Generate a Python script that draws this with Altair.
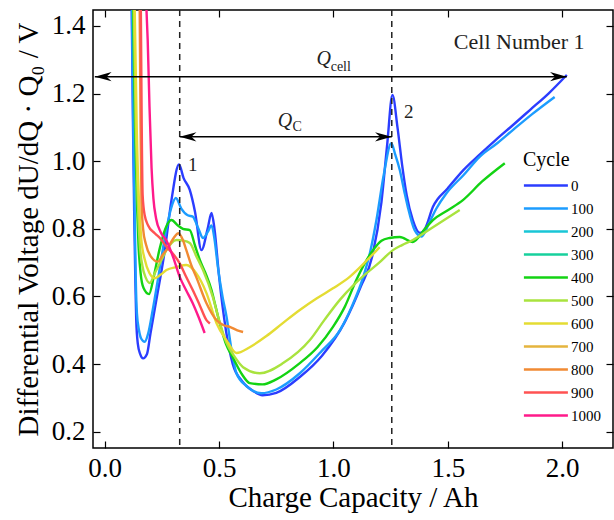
import altair as alt
import pandas as pd

# ---------------- data ----------------
cycles_all = ["0", "100", "200", "300", "400", "500", "600", "700", "800", "900", "1000"]
colors_all = ["#2b3dff", "#1c9cff", "#19c6d6", "#17d09c", "#13d313", "#a9e33e",
              "#e4dc33", "#e5b43e", "#f18a33", "#ff5252", "#ff1a8a"]

x_c0 = [0.118, 0.124, 0.129, 0.134, 0.138, 0.145, 0.155, 0.168, 0.185, 0.20, 0.226, 0.263, 0.292, 0.325,
        0.345, 0.372, 0.395, 0.423, 0.45, 0.467, 0.48, 0.50, 0.53, 0.56, 0.60, 0.65, 0.69, 0.75, 0.853,
        0.95, 1.05, 1.12, 1.17, 1.21, 1.235, 1.258, 1.28, 1.30, 1.32, 1.347, 1.378, 1.40, 1.435, 1.50,
        1.57, 1.64, 1.71, 1.79, 1.86, 1.94, 2.02]
y_c0 = [1.46, 1.10, 0.85, 0.65, 0.53, 0.46, 0.43, 0.417, 0.43, 0.49, 0.59, 0.737, 0.885, 0.99,
        0.95, 0.915, 0.85, 0.737, 0.80, 0.847, 0.80, 0.66, 0.50, 0.40, 0.35, 0.32, 0.308, 0.315, 0.362,
        0.425, 0.525, 0.63, 0.72, 0.88, 1.05, 1.196, 1.10, 0.99, 0.90, 0.826, 0.788, 0.80, 0.865, 0.92,
        0.975, 1.02, 1.063, 1.11, 1.152, 1.20, 1.255]

x_c100 = [0.119, 0.125, 0.131, 0.136, 0.141, 0.15, 0.16, 0.175, 0.19, 0.21, 0.24, 0.27, 0.29, 0.311,
          0.335, 0.363, 0.385, 0.41, 0.43, 0.45, 0.467, 0.48, 0.495, 0.515, 0.533, 0.555, 0.576, 0.62,
          0.685, 0.75, 0.853, 0.95, 1.028, 1.08, 1.13, 1.16, 1.188, 1.22, 1.253, 1.27, 1.29, 1.31,
          1.325, 1.355, 1.385, 1.42, 1.45, 1.494, 1.57, 1.639, 1.71, 1.784, 1.87, 1.967]
y_c100 = [1.46, 1.10, 0.85, 0.65, 0.55, 0.50, 0.475, 0.466, 0.49, 0.56, 0.68, 0.80, 0.86, 0.891,
          0.86, 0.84, 0.836, 0.80, 0.773, 0.79, 0.81, 0.77, 0.687, 0.60, 0.539, 0.44, 0.373, 0.335,
          0.314, 0.325, 0.373, 0.44, 0.50, 0.57, 0.657, 0.73, 0.826, 0.96, 1.053, 1.02, 0.974, 0.91,
          0.865, 0.796, 0.777, 0.82, 0.86, 0.905, 0.96, 1.013, 1.05, 1.092, 1.14, 1.19]

x_c400 = [0.124, 0.133, 0.141, 0.148, 0.157, 0.17, 0.194, 0.215, 0.24, 0.265, 0.292, 0.32, 0.342, 0.372,
          0.395, 0.416, 0.44, 0.467, 0.485, 0.503, 0.53, 0.56, 0.60, 0.634, 0.69, 0.75, 0.853, 0.93,
          0.998, 1.05, 1.10, 1.173, 1.21, 1.246, 1.29, 1.347, 1.40, 1.435, 1.50, 1.566, 1.65, 1.749]
y_c400 = [1.46, 1.10, 0.88, 0.75, 0.67, 0.625, 0.607, 0.66, 0.74, 0.80, 0.826, 0.81, 0.80, 0.796,
          0.75, 0.708, 0.67, 0.619, 0.57, 0.521, 0.46, 0.42, 0.37, 0.344, 0.340, 0.355, 0.403, 0.45,
          0.51, 0.57, 0.649, 0.737, 0.765, 0.773, 0.776, 0.761, 0.80, 0.826, 0.855, 0.885, 0.94, 0.994]

x_c500 = [0.127, 0.136, 0.145, 0.153, 0.165, 0.18, 0.197, 0.22, 0.25, 0.27, 0.314, 0.345, 0.372, 0.40,
          0.43, 0.473, 0.50, 0.533, 0.57, 0.605, 0.678, 0.78, 0.897, 0.96, 1.028, 1.09, 1.145, 1.20,
          1.26, 1.30, 1.347, 1.435, 1.552]
y_c500 = [1.46, 1.10, 0.88, 0.76, 0.69, 0.655, 0.64, 0.67, 0.71, 0.737, 0.767, 0.765, 0.758, 0.72,
          0.678, 0.598, 0.53, 0.462, 0.42, 0.391, 0.373, 0.403, 0.471, 0.53, 0.590, 0.635, 0.669, 0.70,
          0.737, 0.752, 0.767, 0.805, 0.856]

x_c600 = [0.131, 0.14, 0.15, 0.16, 0.175, 0.195, 0.219, 0.245, 0.27, 0.314, 0.357, 0.40, 0.445, 0.489,
          0.532, 0.576, 0.634, 0.707, 0.78, 0.853, 0.926, 0.998, 1.071, 1.144, 1.202]
y_c600 = [1.46, 1.10, 0.88, 0.77, 0.71, 0.67, 0.654, 0.665, 0.678, 0.687, 0.693, 0.669, 0.61, 0.521,
          0.471, 0.433, 0.45, 0.483, 0.522, 0.560, 0.594, 0.624, 0.658, 0.705, 0.746]

x_c800 = [0.153, 0.157, 0.161, 0.168, 0.18, 0.20, 0.233, 0.255, 0.27, 0.306, 0.321, 0.34, 0.357, 0.38,
          0.40, 0.445, 0.489, 0.52, 0.547, 0.58, 0.605]
y_c800 = [1.46, 1.10, 0.88, 0.80, 0.755, 0.72, 0.703, 0.725, 0.737, 0.777, 0.787, 0.77, 0.737, 0.69,
          0.658, 0.58, 0.53, 0.515, 0.51, 0.50, 0.495]

x_c900 = [0.158, 0.162, 0.166, 0.175, 0.19, 0.219, 0.245, 0.27, 0.30, 0.328, 0.355, 0.385, 0.415, 0.445, 0.46]
y_c900 = [1.46, 1.10, 0.90, 0.84, 0.81, 0.787, 0.77, 0.747, 0.725, 0.698, 0.66, 0.619, 0.575, 0.53, 0.52]

x_c1000 = [0.182, 0.188, 0.196, 0.205, 0.213, 0.225, 0.245, 0.27, 0.30, 0.328, 0.355, 0.385, 0.41, 0.437]
y_c1000 = [1.46, 1.36, 1.16, 0.98, 0.89, 0.83, 0.79, 0.765, 0.715, 0.658, 0.62, 0.58, 0.54, 0.492]

series = [("0", x_c0, y_c0), ("100", x_c100, y_c100), ("400", x_c400, y_c400),
          ("500", x_c500, y_c500), ("600", x_c600, y_c600), ("800", x_c800, y_c800),
          ("900", x_c900, y_c900), ("1000", x_c1000, y_c1000)]

x_ticks = [0.0, 0.5, 1.0, 1.5, 2.0]
y_ticks = [0.2, 0.4, 0.6, 0.8, 1.0, 1.2, 1.4]

peak1_x = 0.328
peak2_x = 1.255

rows = []
for cyc, xs, ys in series:
    for i, (xv, yv) in enumerate(zip(xs, ys)):
        rows.append({"cycle": cyc, "x": xv, "y": yv, "i": i})
df = pd.DataFrame(rows)

FONT = "Liberation Serif"
xscale = alt.Scale(domain=[-0.051, 2.222], nice=False, zero=False)
yscale = alt.Scale(domain=[0.152, 1.447], nice=False, zero=False)


def tick_axis(orient, values):
    return alt.Axis(orient=orient, values=values, labels=False, domain=False, grid=False,
                    ticks=True, tickSize=7, offset=-7, title=None, tickColor="black", tickWidth=1.2)


lines = alt.Chart(df).mark_line(clip=True, strokeWidth=2.4, interpolate="monotone").encode(
    x=alt.X("x:Q", scale=xscale,
            axis=alt.Axis(values=x_ticks, format=".1f", ticks=False, domain=False, grid=False,
                          labelPadding=7, title="Charge Capacity / Ah", titlePadding=2)),
    y=alt.Y("y:Q", scale=yscale,
            axis=alt.Axis(values=y_ticks, format=".1f", ticks=False, domain=False, grid=False,
                          labelPadding=8, title="Differential Voltage dU/dQ · Q₀ / V", titlePadding=8)),
    color=alt.Color("cycle:N", scale=alt.Scale(domain=cycles_all, range=colors_all),
                    legend=alt.Legend(orient="none", legendX=430, legendY=140, title="Cycle",
                                      titleFont=FONT, titleFontSize=20, titleFontWeight="normal",
                                      titleColor="black", labelFont=FONT, labelFontSize=15,
                                      labelColor="black", symbolType="M-1.2,0 L6.8,0",
                                      symbolSize=121, symbolStrokeWidth=2.5, rowPadding=7,
                                      labelOffset=33, titlePadding=8)),
    order="i:Q",
    detail="cycle:N",
)

# dashed markers
vlines = alt.Chart(pd.DataFrame({"x": [peak1_x, peak2_x]})).mark_rule(
    color="#222222", strokeDash=[6, 5], strokeWidth=1.5).encode(
    x=alt.X("x:Q", scale=xscale, axis=None))

# arrows
qcell = pd.DataFrame({"x": [-0.043], "x2": [2.02], "y": [1.25]})
qc = pd.DataFrame({"x": [peak1_x], "x2": [peak2_x], "y": [1.072]})

qcell_line = alt.Chart(qcell).mark_rule(color="black", strokeWidth=1.5).encode(
    x=alt.X("x:Q", scale=xscale, axis=tick_axis("bottom", x_ticks)), x2="x2:Q",
    y=alt.Y("y:Q", scale=yscale, axis=tick_axis("left", y_ticks)))
qc_line = alt.Chart(qc).mark_rule(color="black", strokeWidth=1.5).encode(
    x=alt.X("x:Q", scale=xscale, axis=tick_axis("top", x_ticks)), x2="x2:Q",
    y=alt.Y("y:Q", scale=yscale, axis=tick_axis("right", y_ticks)))

RIGHT_HEAD = "M0,0 L-2,-0.55 L-1.4,0 L-2,0.55 Z"
LEFT_HEAD = "M0,0 L2,-0.55 L1.4,0 L2,0.55 Z"
heads_r = pd.DataFrame({"x": [2.02, peak2_x], "y": [1.25, 1.072]})
heads_l = pd.DataFrame({"x": [-0.043, peak1_x], "y": [1.25, 1.072]})
arr_r = alt.Chart(heads_r).mark_point(shape=RIGHT_HEAD, filled=True, color="black", size=280,
                                      opacity=1).encode(
    x=alt.X("x:Q", scale=xscale, axis=None), y=alt.Y("y:Q", scale=yscale, axis=None))
arr_l = alt.Chart(heads_l).mark_point(shape=LEFT_HEAD, filled=True, color="black", size=280,
                                      opacity=1).encode(
    x=alt.X("x:Q", scale=xscale, axis=None), y=alt.Y("y:Q", scale=yscale, axis=None))


def label(df_, size, style="normal", align="center"):
    return alt.Chart(df_).mark_text(font=FONT, fontSize=size, fontStyle=style, align=align,
                                    baseline="middle", color="#222222").encode(
        x=alt.X("x:Q", scale=xscale, axis=None), y=alt.Y("y:Q", scale=yscale, axis=None),
        text="t:N")


t_main = label(pd.DataFrame({"x": [1.812], "y": [1.352], "t": ["Cell Number 1"]}), 22)
t_num = label(pd.DataFrame({"x": [0.385, 1.329], "y": [0.989, 1.144], "t": ["1", "2"]}), 19)
t_q = label(pd.DataFrame({"x": [0.958, 0.788], "y": [1.303, 1.120], "t": ["Q", "Q"]}), 20,
            style="italic")
t_sub = label(pd.DataFrame({"x": [0.988, 0.821], "y": [1.278, 1.102], "t": ["cell", "C"]}), 14,
              align="left")

chart = alt.layer(lines, vlines, qcell_line, qc_line, arr_r, arr_l, t_main, t_num, t_q, t_sub).resolve_axis(
    x="independent", y="independent"
).properties(
    width=520, height=438,
    padding={"left": 93, "top": 10, "right": 1, "bottom": 72},
    autosize=alt.AutoSizeParams(type="none"),
    background="white",
).configure_view(stroke="black", strokeWidth=1.5).configure_axis(
    labelFont=FONT, labelFontSize=27, labelColor="black",
    titleFont=FONT, titleFontSize=29, titleFontWeight="normal", titleColor="black",
).configure_legend(titleFont=FONT, labelFont=FONT, titleFontWeight="normal")

chart.save("out.html", embed_options={"renderer": "svg", "actions": False})
